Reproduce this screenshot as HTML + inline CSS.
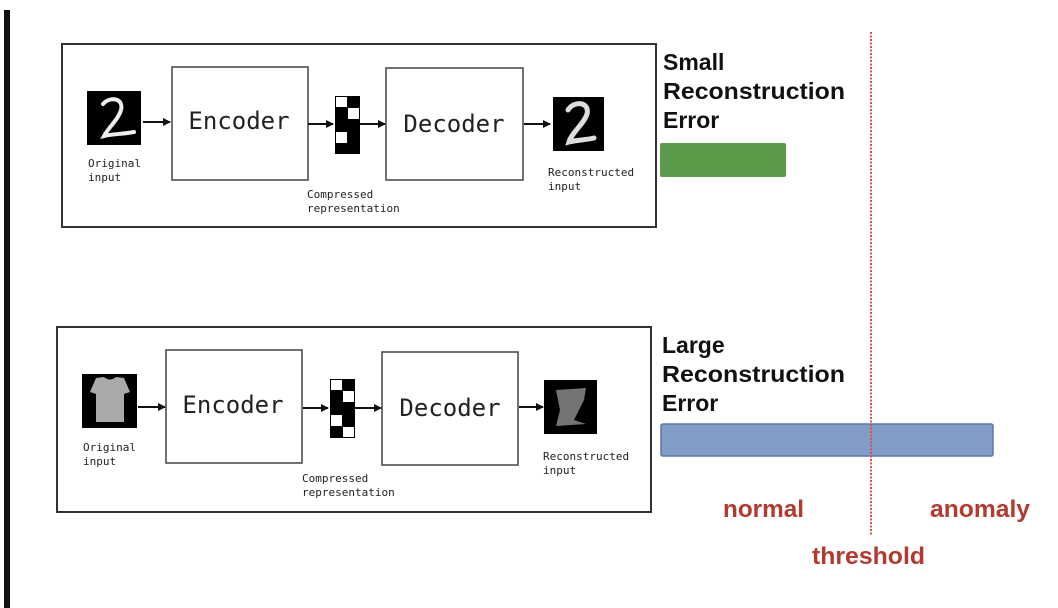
<!DOCTYPE html>
<html><head><meta charset="utf-8"><style>
html,body{margin:0;padding:0;background:#fff;}
svg{display:block;}
.mono{font-family:"DejaVu Sans Mono","Liberation Mono",monospace;fill:#222;}
.hd{font-family:"Liberation Sans",sans-serif;font-weight:bold;font-size:23px;fill:#111;}
.rd{font-family:"Liberation Sans",sans-serif;font-weight:bold;font-size:24px;fill:#b23a2e;}
</style></head><body>
<svg width="1058" height="608" viewBox="0 0 1058 608" xmlns="http://www.w3.org/2000/svg">
<defs>
<marker id="ah" markerWidth="8" markerHeight="8" refX="7" refY="4" orient="auto" markerUnits="userSpaceOnUse">
<path d="M0,0 L8,4 L0,8 z" fill="#111"/></marker>
</defs>
<rect x="4" y="10" width="6" height="598" fill="#111"/>

<!-- top panel -->
<rect x="62" y="44" width="594" height="183" fill="#fff" stroke="#333" stroke-width="2"/>
<rect x="87" y="91" width="54" height="54" fill="#000"/>
<path d="M103,104 C110,96 124,98 121,110 C118,120 108,128 104,136 C112,134 124,134 134,132" fill="none" stroke="#eee" stroke-width="4" stroke-linecap="round"/>
<line x1="143" y1="122" x2="170" y2="122" stroke="#111" stroke-width="2" marker-end="url(#ah)"/>
<rect x="172" y="67" width="136" height="113" fill="#fff" stroke="#444" stroke-width="1.5"/>
<text x="239" y="129" text-anchor="middle" class="mono" font-size="24">Encoder</text>
<line x1="308" y1="124" x2="333" y2="124" stroke="#111" stroke-width="2" marker-end="url(#ah)"/>
<g>
<rect x="335" y="96" width="25" height="58" fill="#000"/>
<rect x="336" y="97" width="11" height="10" fill="#fff"/>
<rect x="348" y="108" width="11" height="11" fill="#fff"/>
<rect x="336" y="132" width="11" height="11" fill="#fff"/>
</g>
<line x1="360" y1="124" x2="385" y2="124" stroke="#111" stroke-width="2" marker-end="url(#ah)"/>
<rect x="386" y="68" width="137" height="112" fill="#fff" stroke="#444" stroke-width="1.5"/>
<text x="454" y="132" text-anchor="middle" class="mono" font-size="24">Decoder</text>
<line x1="524" y1="124" x2="550" y2="124" stroke="#111" stroke-width="2" marker-end="url(#ah)"/>
<rect x="553" y="97" width="51" height="54" fill="#000"/>
<path d="M568,110 C574,100 590,102 587,114 C584,124 572,132 569,142 C576,140 586,140 594,138" fill="none" stroke="#ddd" stroke-width="5" stroke-linecap="round"/>
<text x="88" y="167" class="mono" font-size="11">Original</text>
<text x="88" y="181" class="mono" font-size="11">input</text>
<text x="307" y="198" class="mono" font-size="11">Compressed</text>
<text x="307" y="212" class="mono" font-size="11">representation</text>
<text x="548" y="176" class="mono" font-size="11">Reconstructed</text>
<text x="548" y="190" class="mono" font-size="11">input</text>

<!-- bottom panel -->
<rect x="57" y="327" width="594" height="185" fill="#fff" stroke="#333" stroke-width="2"/>
<rect x="82" y="374" width="55" height="54" fill="#000"/>
<path d="M96,378 L104,377 Q110,382 116,377 L124,378 L130,392 L124,394 L124,422 L96,422 L96,394 L90,392 Z" fill="#aaa"/>
<line x1="138" y1="407" x2="165" y2="407" stroke="#111" stroke-width="2" marker-end="url(#ah)"/>
<rect x="166" y="350" width="136" height="113" fill="#fff" stroke="#444" stroke-width="1.5"/>
<text x="233" y="413" text-anchor="middle" class="mono" font-size="24">Encoder</text>
<line x1="303" y1="408" x2="328" y2="408" stroke="#111" stroke-width="2" marker-end="url(#ah)"/>
<g>
<rect x="330" y="379" width="25" height="59" fill="#000"/>
<rect x="331" y="380" width="11" height="10" fill="#fff"/>
<rect x="343" y="391" width="11" height="11" fill="#fff"/>
<rect x="331" y="415" width="11" height="11" fill="#fff"/>
<rect x="343" y="427" width="11" height="10" fill="#fff"/>
</g>
<line x1="355" y1="408" x2="381" y2="408" stroke="#111" stroke-width="2" marker-end="url(#ah)"/>
<rect x="382" y="352" width="136" height="113" fill="#fff" stroke="#444" stroke-width="1.5"/>
<text x="450" y="416" text-anchor="middle" class="mono" font-size="24">Decoder</text>
<line x1="519" y1="407" x2="543" y2="407" stroke="#111" stroke-width="2" marker-end="url(#ah)"/>
<rect x="544" y="380" width="53" height="54" fill="#000"/>
<path d="M556,390 L586,388 L584,400 L574,420 L586,424 L556,426 L560,410 Z" fill="#888" opacity="0.85"/>
<text x="83" y="451" class="mono" font-size="11">Original</text>
<text x="83" y="465" class="mono" font-size="11">input</text>
<text x="302" y="482" class="mono" font-size="11">Compressed</text>
<text x="302" y="496" class="mono" font-size="11">representation</text>
<text x="543" y="460" class="mono" font-size="11">Reconstructed</text>
<text x="543" y="474" class="mono" font-size="11">input</text>

<!-- right side -->
<text x="663" y="70" class="hd">Small</text>
<text x="663" y="99" class="hd" textLength="182" lengthAdjust="spacingAndGlyphs">Reconstruction</text>
<text x="663" y="128" class="hd">Error</text>
<rect x="660" y="143" width="126" height="34" rx="2" fill="#5a9a4b"/>

<text x="662" y="353" class="hd">Large</text>
<text x="662" y="382" class="hd" textLength="183" lengthAdjust="spacingAndGlyphs">Reconstruction</text>
<text x="662" y="411" class="hd">Error</text>
<rect x="661" y="424" width="332" height="32" rx="2" fill="#809dc8" stroke="#5a78ab" stroke-width="1.5"/>

<line x1="871" y1="32" x2="871" y2="535" stroke="#e0504a" stroke-width="2" stroke-dasharray="2,1.5"/>

<text x="723" y="517" class="rd" textLength="81" lengthAdjust="spacingAndGlyphs">normal</text>
<text x="930" y="517" class="rd" textLength="100" lengthAdjust="spacingAndGlyphs">anomaly</text>
<text x="812" y="564" class="rd" textLength="113" lengthAdjust="spacingAndGlyphs">threshold</text>
</svg>
</body></html>
